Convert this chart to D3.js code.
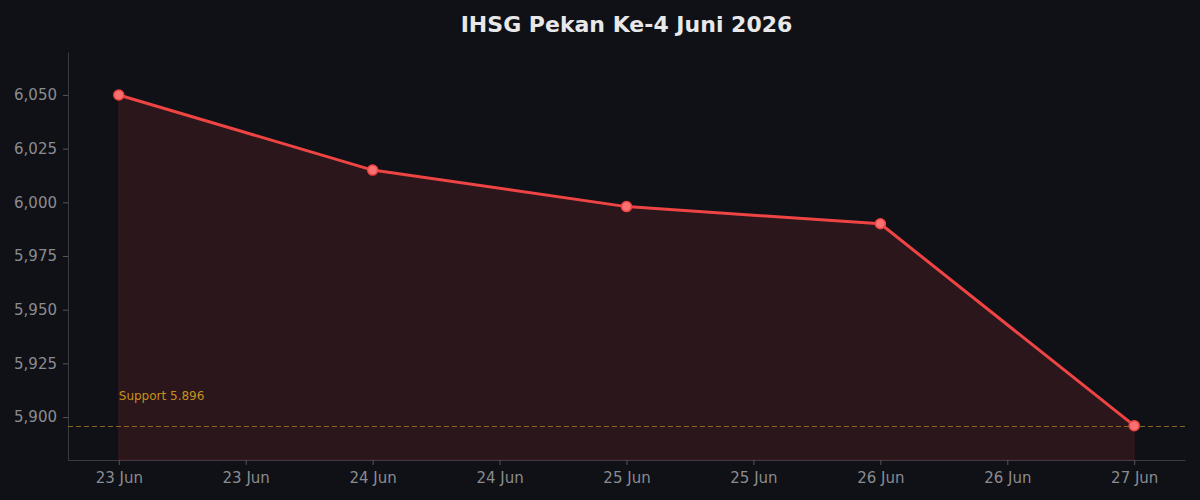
<!DOCTYPE html>
<html>
<head>
<meta charset="utf-8">
<script src="https://cdn.jsdelivr.net/npm/d3@7"></script>
<style>
  html, body { margin: 0; padding: 0; background: #0f1116; }
  svg { display: block; font-family: "DejaVu Sans", sans-serif; }
</style>
</head>
<body>
<svg id="chart" width="1200" height="500"></svg>
<script>
const dates = ["2026-06-23", "2026-06-24", "2026-06-25", "2026-06-26", "2026-06-27"];
const closes = [6050, 6015, 5998, 5990, 5896];
const yTicks = [5900, 5925, 5950, 5975, 6000, 6025, 6050];
const supportLevel = 5896;
const supportLabel = "Support 5.896";
const title = "IHSG Pekan Ke-4 Juni 2026";

const svg = d3.select("#chart");
const width = 1200;
const height = 500;
const margin = { top: 52, right: 15, bottom: 40, left: 68 };

const parse = d3.timeParse("%Y-%m-%d");
const data = dates.map((d, i) => ({ date: parse(d), value: closes[i] }));

// pad the time domain a bit on each side
const pad = 0.2 * 864e5;
const x = d3.scaleTime()
  .domain([+data[0].date - pad, +data[data.length - 1].date + pad])
  .range([margin.left, width - margin.right]);

const y = d3.scaleLinear()
  .domain([5880, 6070])
  .range([height - margin.bottom, margin.top]);

const fmtDay = d3.timeFormat("%d %b");

const xAxis = svg.append("g")
  .attr("transform", `translate(0,${height - margin.bottom})`)
  .call(d3.axisBottom(x).ticks(d3.timeHour.every(12)).tickFormat(fmtDay)
    .tickSize(5).tickPadding(7).tickSizeOuter(0));

const yAxis = svg.append("g")
  .attr("transform", `translate(${margin.left},0)`)
  .call(d3.axisLeft(y).tickValues(yTicks).tickFormat(d3.format(","))
    .tickSize(5).tickPadding(6).tickSizeOuter(0));

[xAxis, yAxis].forEach(ax => {
  ax.select(".domain").attr("stroke", "#3a3b40");
  ax.selectAll(".tick line").attr("stroke", "#55565b");
  ax.selectAll(".tick text")
    .attr("fill", "#8b8c90")
    .attr("font-size", "15px")
    .attr("font-family", "DejaVu Sans, sans-serif");
});

const area = d3.area()
  .x(d => x(d.date))
  .y0(y.range()[0])
  .y1(d => y(d.value));

svg.append("path")
  .datum(data)
  .attr("d", area)
  .attr("fill", "#ef4444")
  .attr("fill-opacity", 0.12)
  .attr("stroke", "#ef4444")
  .attr("stroke-opacity", 0.12);

// support line, snapped to a pixel row so it stays crisp
const supportY = Math.round(y(supportLevel)) + 0.5;
svg.append("line")
  .attr("x1", margin.left)
  .attr("x2", width - margin.right)
  .attr("y1", supportY)
  .attr("y2", supportY)
  .attr("stroke", "#c8901a")
  .attr("stroke-opacity", 0.65)
  .attr("stroke-width", 1)
  .attr("stroke-dasharray", "5,3");

svg.append("text")
  .attr("x", x(data[0].date))
  .attr("y", y(supportLevel) - 26)
  .attr("fill", "#c8901a")
  .attr("font-size", "12px")
  .text(supportLabel);

const line = d3.line()
  .x(d => x(d.date))
  .y(d => y(d.value));

svg.append("path")
  .datum(data)
  .attr("d", line)
  .attr("fill", "none")
  .attr("stroke", "#ef4444")
  .attr("stroke-width", 3)
  .attr("stroke-linejoin", "round");

svg.selectAll(".dot")
  .data(data)
  .enter()
  .append("circle")
  .attr("class", "dot")
  .attr("cx", d => x(d.date))
  .attr("cy", d => y(d.value))
  .attr("r", 5)
  .attr("fill", "#f87171")
  .attr("stroke", "#ef4444")
  .attr("stroke-width", 1.5);

// title centred over the plot area
svg.append("text")
  .attr("x", (margin.left + width - margin.right) / 2)
  .attr("y", 32)
  .attr("text-anchor", "middle")
  .attr("font-size", "22px")
  .attr("font-weight", "bold")
  .attr("fill", "#e8e8ea")
  .text(title);
</script>
</body>
</html>
